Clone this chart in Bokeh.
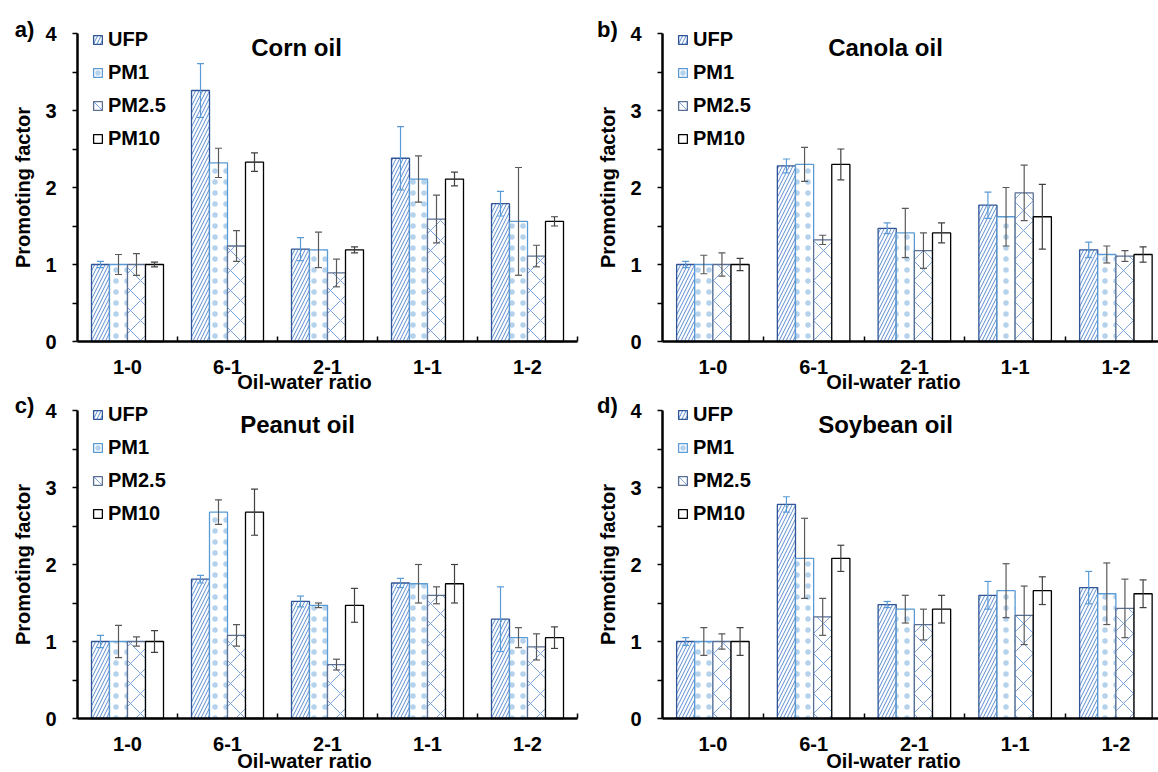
from bokeh.plotting import figure
from bokeh.models import (Range1d, FixedTicker, Legend, LegendItem, Whisker, TeeHead,
                          ColumnDataSource, Label)
from bokeh.layouts import gridplot
from bokeh.embed import file_html
from bokeh.resources import INLINE

# ---------------- data ----------------
categories = ["1-0", "6-1", "2-1", "1-1", "1-2"]
series = ["UFP", "PM1", "PM2.5", "PM10"]

corn_ufp = [1.00, 3.26, 1.20, 2.38, 1.79]
corn_ufp_err = [0.04, 0.35, 0.15, 0.41, 0.16]
corn_pm1 = [1.00, 2.32, 1.19, 2.11, 1.56]
corn_pm1_err = [0.13, 0.19, 0.23, 0.30, 0.70]
corn_pm25 = [1.00, 1.24, 0.89, 1.59, 1.11]
corn_pm25_err = [0.14, 0.20, 0.18, 0.31, 0.14]
corn_pm10 = [1.00, 2.33, 1.19, 2.11, 1.56]
corn_pm10_err = [0.03, 0.12, 0.04, 0.09, 0.06]

canola_ufp = [1.00, 2.28, 1.47, 1.77, 1.19]
canola_ufp_err = [0.04, 0.09, 0.07, 0.17, 0.10]
canola_pm1 = [1.00, 2.30, 1.41, 1.62, 1.13]
canola_pm1_err = [0.12, 0.22, 0.32, 0.38, 0.11]
canola_pm25 = [1.00, 1.32, 1.18, 1.93, 1.11]
canola_pm25_err = [0.15, 0.06, 0.23, 0.36, 0.07]
canola_pm10 = [1.00, 2.30, 1.41, 1.62, 1.13]
canola_pm10_err = [0.08, 0.20, 0.13, 0.42, 0.10]

peanut_ufp = [1.00, 1.81, 1.52, 1.76, 1.29]
peanut_ufp_err = [0.08, 0.05, 0.07, 0.06, 0.42]
peanut_pm1 = [1.00, 2.68, 1.47, 1.75, 1.05]
peanut_pm1_err = [0.21, 0.16, 0.03, 0.25, 0.13]
peanut_pm25 = [1.00, 1.08, 0.70, 1.60, 0.93]
peanut_pm25_err = [0.06, 0.14, 0.07, 0.11, 0.17]
peanut_pm10 = [1.00, 2.68, 1.47, 1.75, 1.05]
peanut_pm10_err = [0.14, 0.30, 0.22, 0.25, 0.14]

soy_ufp = [1.00, 2.78, 1.48, 1.60, 1.70]
soy_ufp_err = [0.05, 0.10, 0.04, 0.18, 0.21]
soy_pm1 = [1.00, 2.08, 1.42, 1.66, 1.62]
soy_pm1_err = [0.18, 0.52, 0.18, 0.35, 0.40]
soy_pm25 = [1.00, 1.32, 1.22, 1.34, 1.43]
soy_pm25_err = [0.10, 0.24, 0.20, 0.38, 0.38]
soy_pm10 = [1.00, 2.08, 1.42, 1.66, 1.62]
soy_pm10_err = [0.18, 0.17, 0.18, 0.18, 0.18]

panel_letters = ["a)", "b)", "c)", "d)"]
panel_titles = ["Corn oil", "Canola oil", "Peanut oil", "Soybean oil"]
x_title = "Oil-water ratio"
y_title = "Promoting factor"

# ---------------- styles ----------------
FONT = "Liberation Sans"
offsets = [-0.27, -0.09, 0.09, 0.27]
bar_w = 0.18
styles = [
    dict(line_color="#2f5597", hatch_pattern="/", hatch_color="#5b8bd0", hatch_scale=7,
         hatch_weight=1.0, hatch_alpha=1.0),
    dict(line_color="#5b9bd5", hatch_pattern=".", hatch_color="#5b9bd5", hatch_scale=11,
         hatch_weight=1.0, hatch_alpha=0.45),
    dict(line_color="#5a6f92", hatch_pattern="x", hatch_color="#7ba3dc", hatch_scale=20,
         hatch_weight=1.0, hatch_alpha=1.0),
    dict(line_color="#000000", hatch_pattern=None, hatch_color="#000000", hatch_scale=6,
         hatch_weight=1.0, hatch_alpha=1.0),
]
err_colors = ["#5b9bd5", "#595959", "#595959", "#404040"]
UNIT = 77.0  # pixels per y unit


def make_panel(idx, vals, errs, fig_left, fig_top, width, height, x0, cat_w, y0,
               tick_standoff, xlab_y, legend_vy, letter_xy, title_xy, xlab_x):
    xr = Range1d((fig_left - x0) / cat_w, (fig_left + width - x0) / cat_w)
    yr = Range1d((y0 - (fig_top + height)) / UNIT, (y0 - fig_top) / UNIT)
    p = figure(width=width, height=height, x_range=xr, y_range=yr,
               output_backend="svg", toolbar_location=None,
               min_border_left=0, min_border_right=0, min_border_top=0, min_border_bottom=0)
    p.grid.visible = False
    p.outline_line_color = None
    p.background_fill_color = "white"
    p.border_fill_color = "white"

    def px(xp):
        return (xp - x0) / cat_w

    def py(yp):
        return (y0 - yp) / UNIT

    items = []
    for k, (v, e) in enumerate(zip(vals, errs)):
        xs = [i + 0.5 + offsets[k] for i in range(len(categories))]
        src = ColumnDataSource(dict(x=xs, top=v,
                                    upper=[a + b for a, b in zip(v, e)],
                                    lower=[a - b for a, b in zip(v, e)]))
        st = styles[k]
        kw = dict(fill_color="white", line_color=st["line_color"], line_width=1.3)
        if st["hatch_pattern"]:
            kw.update(hatch_pattern=st["hatch_pattern"], hatch_color=st["hatch_color"],
                      hatch_scale=st["hatch_scale"], hatch_weight=st["hatch_weight"],
                      hatch_alpha=st["hatch_alpha"])
        r = p.vbar(x="x", top="top", bottom=0, width=bar_w, source=src, **kw)
        items.append(LegendItem(label=series[k], renderers=[r]))
        c = err_colors[k]
        w = Whisker(source=src, base="x", upper="upper", lower="lower",
                    line_color=c, line_width=1.2,
                    upper_head=TeeHead(size=7, line_color=c, line_width=1.2),
                    lower_head=TeeHead(size=7, line_color=c, line_width=1.2))
        w.level = "annotation"
        p.add_layout(w)

    leg = Legend(items=items, location=(x0 + 15 - fig_left, legend_vy), padding=0, margin=0,
                 spacing=10, glyph_width=11, glyph_height=11, label_height=23, label_standoff=5,
                 label_text_font=FONT, label_text_font_style="bold",
                 label_text_font_size="20px", label_text_color="black",
                 background_fill_alpha=0, border_line_color=None)
    p.add_layout(leg)

    # x axis (fixed at y=0)
    xa = p.xaxis[0]
    xa.fixed_location = 0
    xa.bounds = (0, len(categories))
    xa.ticker = FixedTicker(ticks=[i + 0.5 for i in range(len(categories))],
                            minor_ticks=[float(i) for i in range(1, len(categories) + 1)])
    xa.major_label_overrides = {i + 0.5: c for i, c in enumerate(categories)}
    xa.major_tick_in = 0
    xa.major_tick_out = 0
    xa.minor_tick_in = 5
    xa.minor_tick_out = 0
    xa.minor_tick_line_color = "black"
    xa.minor_tick_line_width = 1.5
    xa.axis_line_width = 2.5
    xa.axis_line_color = "black"
    xa.major_label_standoff = tick_standoff
    xa.major_label_text_font = FONT
    xa.major_label_text_font_style = "bold"
    xa.major_label_text_font_size = "20px"
    xa.major_label_text_color = "black"

    # y axis (fixed at x=0)
    ya = p.yaxis[0]
    ya.fixed_location = 0
    ya.bounds = (0, 4)
    ya.ticker = FixedTicker(ticks=[0, 1, 2, 3, 4], minor_ticks=[0.5, 1.5, 2.5, 3.5])
    ya.major_tick_in = 0
    ya.major_tick_out = 5
    ya.minor_tick_in = 0
    ya.minor_tick_out = 5
    ya.major_tick_line_width = 1.5
    ya.minor_tick_line_width = 1.5
    ya.minor_tick_line_color = "black"
    ya.major_tick_line_color = "black"
    ya.axis_line_width = 2.5
    ya.axis_line_color = "black"
    ya.major_label_standoff = 16
    ya.major_label_text_font = FONT
    ya.major_label_text_font_style = "bold"
    ya.major_label_text_font_size = "20px"
    ya.major_label_text_color = "black"
    ya.axis_label = y_title
    ya.axis_label_standoff = 8
    ya.axis_label_text_font = FONT
    ya.axis_label_text_font_style = "bold"
    ya.axis_label_text_font_size = "20px"
    ya.axis_label_text_color = "black"

    p.add_layout(Label(x=px(title_xy[0]), y=py(title_xy[1]), text=panel_titles[idx], text_font=FONT,
                       text_font_style="bold", text_font_size="24px", text_color="black",
                       text_align="center", text_baseline="middle"))
    p.add_layout(Label(x=px(letter_xy[0]), y=py(letter_xy[1]), text=panel_letters[idx], text_font=FONT,
                       text_font_style="bold", text_font_size="22px", text_color="black",
                       text_align="center", text_baseline="middle"))
    p.add_layout(Label(x=px(xlab_x), y=py(xlab_y), text=x_title, text_font=FONT,
                       text_font_style="bold", text_font_size="20px", text_color="black",
                       text_align="center", text_baseline="middle"))
    return p


# page-pixel layout: figure origin, zero positions (the grid starts at the page corner)
pa = make_panel(0, [corn_ufp, corn_pm1, corn_pm25, corn_pm10],
                [corn_ufp_err, corn_pm1_err, corn_pm25_err, corn_pm10_err],
                0, 0, 593, 393, 77, 100.0, 341, 18, 381, 243,
                (24, 29), (296, 47), 304)
pb = make_panel(1, [canola_ufp, canola_pm1, canola_pm25, canola_pm10],
                [canola_ufp_err, canola_pm1_err, canola_pm25_err, canola_pm10_err],
                593, 0, 565, 393, 662, 100.75, 341, 18, 381, 243,
                (607, 29), (885, 47), 893)
pc = make_panel(2, [peanut_ufp, peanut_pm1, peanut_pm25, peanut_pm10],
                [peanut_ufp_err, peanut_pm1_err, peanut_pm25_err, peanut_pm10_err],
                0, 393, 593, 379, 77, 100.0, 718, 18, 760, 247,
                (24, 405), (297, 424), 304)
pd_ = make_panel(3, [soy_ufp, soy_pm1, soy_pm25, soy_pm10],
                 [soy_ufp_err, soy_pm1_err, soy_pm25_err, soy_pm10_err],
                 593, 393, 565, 379, 662, 100.75, 718, 18, 760, 247,
                 (607, 405), (885, 424), 893)

grid = gridplot([[pa, pb], [pc, pd_]], toolbar_location=None)
open("out.html", "w").write(file_html(grid, INLINE))
